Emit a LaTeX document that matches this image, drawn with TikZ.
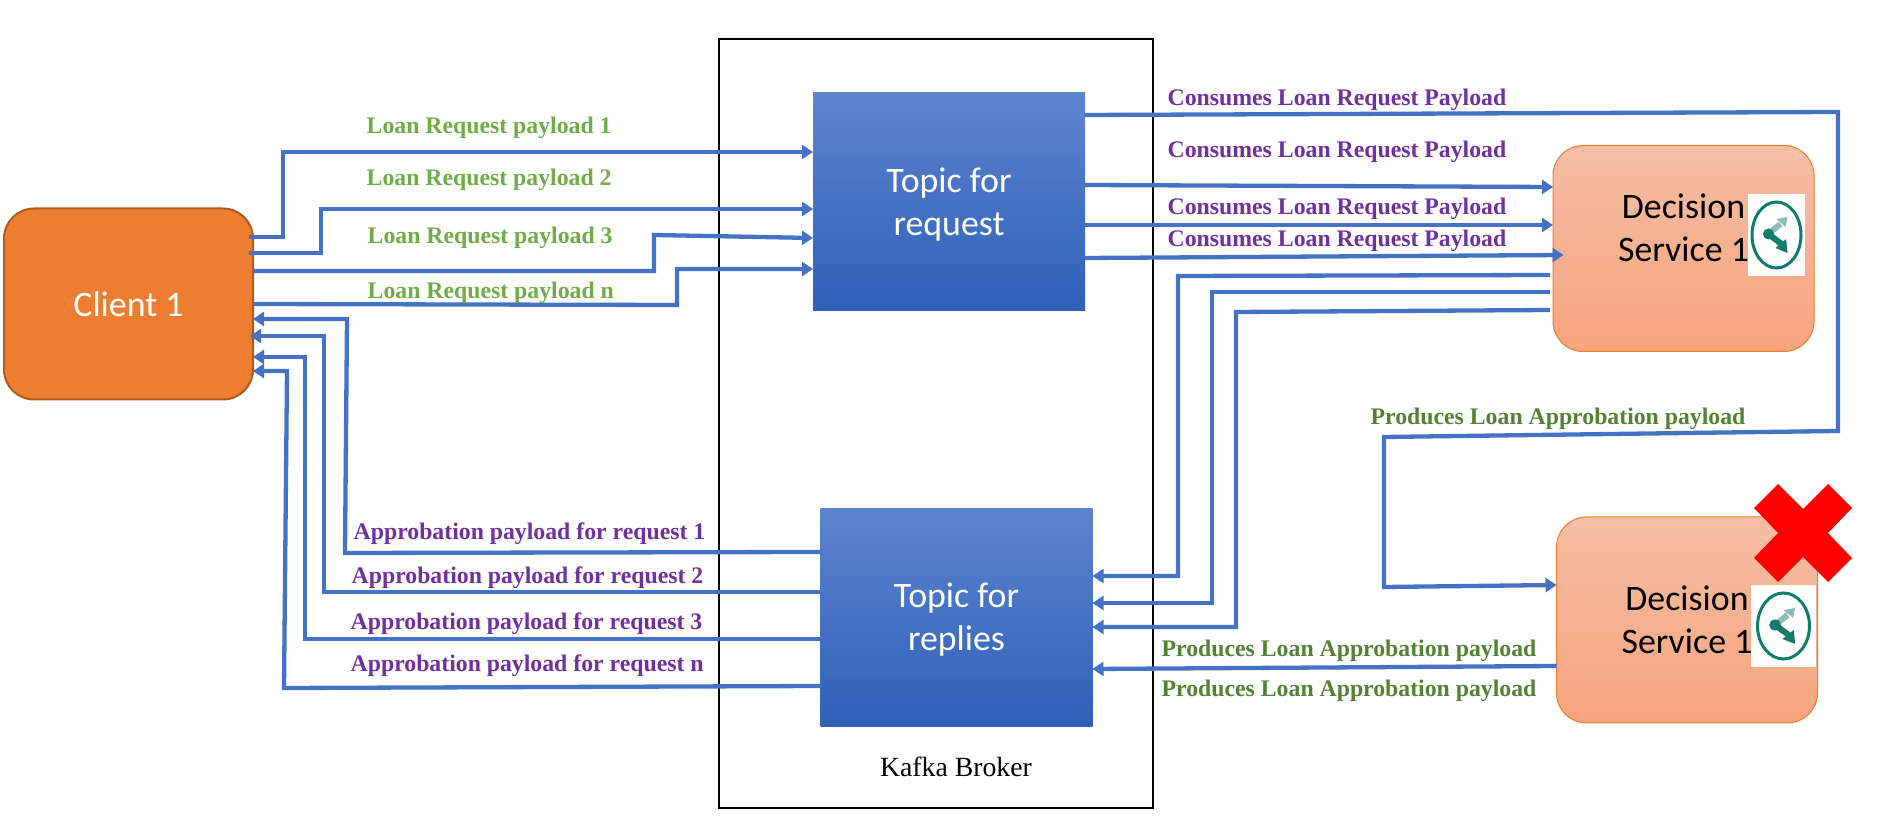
\documentclass[tikz,border=0pt]{standalone}
\usepackage{fontspec}
\setmainfont{Liberation Serif}
\newfontfamily\boxfont{Carlito}
\usetikzlibrary{
    arrows.meta
}
\definecolor{linkblue}{HTML}{4472C4}
\definecolor{clientfill}{HTML}{ED7D31}
\definecolor{clientedge}{HTML}{AE5A21}
\definecolor{topictop}{HTML}{5E84CE}
\definecolor{topicbottom}{HTML}{2E60B8}
\definecolor{servicetop}{HTML}{F6BEA5}
\definecolor{servicebottom}{HTML}{F7A47D}
\definecolor{labelgreen}{HTML}{70AD47}
\definecolor{labelpurple}{HTML}{7030A0}
\definecolor{labeldark}{HTML}{548235}
\definecolor{iconteal}{HTML}{107C6A}
\definecolor{iconlight}{HTML}{8CBDB2}
\tikzset{
    % Boxes
    box text/.style={font=\boxfont\fontsize{10.2}{12.2}\selectfont,align=center,inner sep=0pt,outer sep=0pt},
    client box/.style={box text,text=white,draw=clientedge,line width=.2mm,fill=clientfill,rounded corners=3mm,minimum width=24.9mm,minimum height=19.1mm},
    topic box/.style={outer sep=0pt,top color=topictop,bottom color=topicbottom,minimum width=27.2mm,minimum height=21.8mm},
    service box/.style={outer sep=0pt,draw=clientfill,line width=.1mm,top color=servicetop,bottom color=servicebottom,rounded corners=3mm,minimum width=26.1mm,minimum height=20.6mm},
    icon box/.style={fill=white,inner sep=0pt,outer sep=0pt},
    %
    % Arrows
    arrow tip/.tip={Triangle[length=1.1mm,width=1.4mm]},
    link/.style={draw=linkblue,line width=.43mm},
    arr/.style={link,-{arrow tip}},
    %
    % Labels
    payload/.style={font=\bfseries\fontsize{6.76}{8}\selectfont,inner sep=0pt,anchor=west,yshift=-.25mm},
    request label/.style={payload,text=labelgreen},
    consume label/.style={payload,text=labelpurple},
    produce label/.style={payload,text=labeldark}
}
% icon drawn with its center at #1, #2 widens it
\newcommand{\ruleicon}[2]{
    \begin{scope}[shift={#1},xscale=#2]
        \draw[iconteal,line width=.3mm] (0,0) ellipse (24.5 and 33);
        \draw[iconlight,line width=.6mm] (-8,-1) -- (4,-11);
        \fill[iconlight] (11,-18) -- (0,-16) -- (9,-8) -- cycle;
        \draw[iconteal,line width=.6mm] (-8,-1) -- (5,9);
        \fill[iconteal] (-8,-1) ellipse (5.5 and 5.5);
        \fill[iconteal] (11,18) -- (-1,13) -- (9.6,4) -- cycle;
    \end{scope}
}
\begin{document}
\begin{tikzpicture}[x=.1mm,y=-.1mm]
    \useasboundingbox (0,0) rectangle (1888,834);
    \draw[line width=.2mm] (719,39) rectangle (1153,808);
    %
    \node[client box] (client) at (128.5,304) {Client 1};
    \node[topic box] (request) at (949,202) {};
    \node[topic box] (replies) at (956.5,617.5) {};
    \node[service box] (service1) at (1683.5,248.5) {};
    \node[service box] (service2) at (1687,620) {};
    \node[box text,text=white] (request text) at (949,204.5) {Topic for\\request};
    \node[box text,text=white] (replies text) at (956.5,619.5) {Topic for\\replies};
    \node[box text] (service1 text) at (1683.5,228) {Decision\\Service 1};
    \node[box text] (service2 text) at (1687,620) {Decision\\Service 1};
    \node[icon box,minimum width=5.7mm,minimum height=8.2mm] (icon1) at (1776.5,235) {};
    \node[icon box,minimum width=6.5mm,minimum height=8.2mm] (icon2) at (1783.5,626) {};
    \ruleicon{(icon1.center)}{1}
    \ruleicon{(icon2.center)}{1.06}
    \node[font=\fontsize{7.9}{9}\selectfont,inner sep=0pt] (broker) at (956,767) {Kafka Broker};
    %
    % Client to request topic
    \coordinate (out1) at (249,237);
    \coordinate (out2) at (249,253);
    \draw[arr] (out1) -| (283,152) -- (request.west |- 0,152);
    \draw[arr] (out2) -| (321,209) -- (request.west |- 0,209);
    \draw[arr] (client.east |- 0,271) -| (654,235) -- (request.west |- 0,238);
    \draw[arr] (client.east |- 0,304) -- (677,305) -- (677,269) -- (request.west |- 0,269);
    % Replies topic to client
    \coordinate (in2) at (250,336);
    \draw[arr] (replies.west |- 0,552) -- (345,553) -- (347,319) -- (client.east |- 0,319);
    \draw[arr] (replies.west |- 0,592) -| (324,336) -- (in2);
    \draw[arr] (replies.west |- 0,639) -| (305,357) -- (client.east |- 0,357);
    \draw[arr] (replies.west |- 0,686) -- (284,688) -- (287,371) -- (client.east |- 0,371);
    % Request topic to services
    \draw[arr] (request.east |- 0,115) -- (1838,112) -- (1838,431) -- (1384,437) -- (1384,587) -- (service2.west |- 0,585);
    \draw[arr] (request.east |- 0,185) -- (service1.west |- 0,187);
    \draw[arr] (request.east |- 0,225) -- (service1.west |- 0,225);
    \draw[arr] (request.east |- 0,258) -- ([xshift=3]service1.west |- 0,255);
    % Services to replies topic
    \coordinate (back1) at (1550,275);
    \coordinate (back2) at (1550,292);
    \coordinate (back3) at (1550,310);
    \draw[arr] (back1) -- (1178,276) |- (replies.east |- 0,576);
    \draw[arr] (back2) -- (1212,292) |- (replies.east |- 0,603);
    \draw[arr] (back3) -- (1236,312) |- (replies.east |- 0,627);
    \draw[arr] (service2.west |- 0,666) -- (replies.east |- 0,669);
    %
    \node[request label] (loan1) at (366,125) {Loan Request payload 1};
    \node[request label] (loan2) at (366,177) {Loan Request payload 2};
    \node[request label] (loan3) at (367,235) {Loan Request payload 3};
    \node[request label] (loann) at (367,290) {Loan Request payload n};
    \node[consume label] (appro1) at (353,531) {Approbation payload for request 1};
    \node[consume label] (appro2) at (351,575) {Approbation payload for request 2};
    \node[consume label] (appro3) at (350,621) {Approbation payload for request 3};
    \node[consume label] (appron) at (350,663) {Approbation payload for request n};
    \node[consume label] (consume1) at (1167,97) {Consumes Loan Request Payload};
    \node[consume label] (consume2) at (1167,149) {Consumes Loan Request Payload};
    \node[consume label] (consume3) at (1167,206) {Consumes Loan Request Payload};
    \node[consume label] (consume4) at (1167,238) {Consumes Loan Request Payload};
    \node[produce label] (produce1) at (1370,416) {Produces Loan Approbation payload};
    \node[produce label] (produce2) at (1161,648) {Produces Loan Approbation payload};
    \node[produce label] (produce3) at (1161,688) {Produces Loan Approbation payload};
    %
    \fill[red] (1778,484) -- (1803,509) -- (1828,484) -- (1852,508) -- (1828,533) -- (1852,558) -- (1828,582) -- (1803,557) -- (1778,582) -- (1754,558) -- (1778,533) -- (1754,508) -- cycle;
\end{tikzpicture}
\end{document}
